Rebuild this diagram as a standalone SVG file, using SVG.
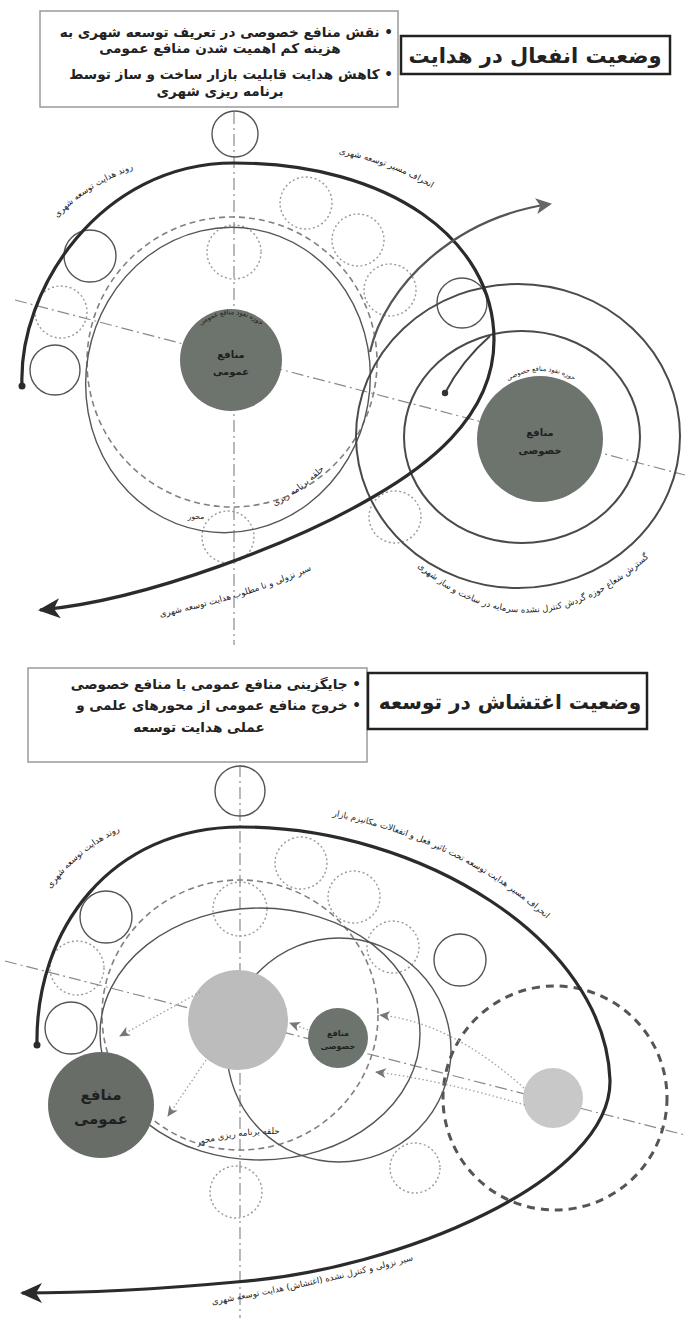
<svg xmlns="http://www.w3.org/2000/svg" width="685" height="1318" viewBox="0 0 685 1318">
<defs>
<style>
text{font-family:"DejaVu Sans","Noto Sans",sans-serif;fill:#222;}
.note{font-size:13.6px;font-weight:bold;direction:rtl;}
.title{font-size:21px;font-weight:bold;direction:rtl;}
.lbl{font-size:8.6px;fill:#222;direction:rtl;}
.cen{font-size:10px;font-weight:bold;fill:#1e221e;}
.hdr{font-size:6.5px;fill:#1e221e;direction:rtl;}
.axis{stroke:#8a8a8a;stroke-width:1.2;fill:none;stroke-dasharray:12 4 2 4;}
.dotc{stroke:#9a9a9a;stroke-width:1.4;fill:none;stroke-dasharray:2 2.5;}
.solc{stroke:#555;stroke-width:1.4;fill:none;}
.ring{stroke:#4a4a4a;stroke-width:2;fill:none;}
.dash{stroke:#808080;stroke-width:1.6;fill:none;stroke-dasharray:6 4;}
.thick{stroke:#2b2b2b;stroke-width:3.2;fill:none;}
.dark{fill:#6d736d;}
.dotarrow{stroke:#a0a0a0;stroke-width:1.3;fill:none;stroke-dasharray:1.5 2.5;}
</style>
<marker id="bigArrow" markerUnits="userSpaceOnUse" markerWidth="24" markerHeight="20" refX="20" refY="10" orient="auto">
<path d="M0,0 L22,10 L0,20 L6,10 Z" fill="#2b2b2b"/>
</marker>
<marker id="grayArrow" markerUnits="userSpaceOnUse" markerWidth="18" markerHeight="16" refX="14" refY="8" orient="auto">
<path d="M0,0 L16,8 L0,16 L4,8 Z" fill="#666"/>
</marker>
<marker id="smallArrow" markerUnits="userSpaceOnUse" markerWidth="12" markerHeight="10" refX="10" refY="5" orient="auto">
<path d="M0,0 L11,5 L0,10 L3,5 Z" fill="#777"/>
</marker>
<path id="p-top-left" d="M24,268 Q66,174 192,154"/>
<path id="p-top-right" d="M296,148 Q402,156 466,214"/>
<path id="p-top-ring" d="M248,518 Q305,496 344,448"/>
<path id="p-top-down" d="M118,626 C200,609 282,590 350,550"/>
<path id="p-top-outer" d="M386,536 Q530,694 680,526"/>
<path id="p-hdr-l" d="M188,346 A45,45 0 0 1 274,346"/>
<path id="p-hdr-r" d="M482,420 A60,60 0 0 1 600,420"/>
<path id="p-bot-left" d="M32,920 Q70,842 154,818"/>
<path id="p-bot-right" d="M266,808 C400,814 524,878 592,968"/>
<path id="p-bot-ring" d="M174,1153 Q240,1128 304,1136"/>
<path id="p-bot-down" d="M158,1314 C260,1297 380,1273 466,1244"/>
</defs>
<rect width="685" height="1318" fill="#fff"/>

<!-- ===== TOP PANEL ===== -->
<g id="top-axes">
<line class="axis" x1="234" y1="112" x2="234" y2="645"/>
<line class="axis" x1="15" y1="300" x2="685" y2="475"/>
</g>
<g id="top-note">
<rect x="40" y="11" width="358" height="96" fill="#fff" stroke="#9a9a9a" stroke-width="1.5"/>
<text class="note" x="393" y="37" text-anchor="start">• نقش منافع خصوصی در تعریف توسعه شهری به</text>
<text class="note" x="220" y="53" text-anchor="middle">هزینه کم اهمیت شدن منافع عمومی</text>
<text class="note" x="393" y="79" text-anchor="start">• کاهش هدایت قابلیت بازار ساخت و ساز توسط</text>
<text class="note" x="220" y="96" text-anchor="middle">برنامه ریزی شهری</text>
</g>
<g id="top-title">
<rect x="401" y="36" width="269" height="38" fill="#fff" stroke="#222" stroke-width="2.5"/>
<text class="title" x="535" y="63" text-anchor="middle">وضعیت انفعال در هدایت</text>
</g>
<g id="top-small-circles">
<circle class="solc" cx="235" cy="134" r="23"/>
<circle class="solc" cx="90" cy="256" r="26"/>
<circle class="solc" cx="55" cy="370" r="25"/>
<circle class="solc" cx="462" cy="303" r="25"/>
<circle class="dotc" cx="306" cy="203" r="26"/>
<circle class="dotc" cx="358" cy="240" r="26"/>
<circle class="dotc" cx="390" cy="290" r="26"/>
<circle class="dotc" cx="234" cy="252" r="27"/>
<circle class="dotc" cx="61" cy="312" r="26"/>
<circle class="dotc" cx="228" cy="537" r="26"/>
<circle class="dotc" cx="395" cy="517" r="26"/>
</g>
<g id="top-public-zone">
<circle class="dash" cx="232" cy="362" r="145"/>
<ellipse class="solc" cx="228" cy="380" rx="142" ry="153" transform="rotate(10 228 380)"/>
</g>
<g id="top-public-core">
<circle class="dark" cx="231" cy="360" r="51"/>
<text class="hdr"><textPath href="#p-hdr-l" startOffset="50%" text-anchor="middle">حوزه نفوذ منافع عمومی</textPath></text>
<text class="cen" x="231" y="358" text-anchor="middle">منافع</text>
<text class="cen" x="231" y="375" text-anchor="middle">عمومی</text>
</g>
<g id="top-private-zone">
<ellipse class="ring" cx="518" cy="436" rx="162" ry="152"/>
<ellipse class="ring" cx="522" cy="437" rx="118" ry="106"/>
</g>
<g id="top-private-core">
<circle class="dark" cx="540" cy="439" r="63"/>
<text class="hdr"><textPath href="#p-hdr-r" startOffset="50%" text-anchor="middle">حوزه نفوذ منافع خصوصی</textPath></text>
<text class="cen" x="540" y="436" text-anchor="middle">منافع</text>
<text class="cen" x="540" y="454" text-anchor="middle">خصوصی</text>
</g>
<g id="top-connectors">
<path class="thick" d="M22,386 C18,290 100,163 234,163 C390,163 494,240 494,340 C494,420 420,470 373,497 C300,540 150,600 40,610" marker-end="url(#bigArrow)"/>
<circle cx="22" cy="386" r="3.5" fill="#2b2b2b"/>
<path d="M370,352 C385,285 455,218 550,204" stroke="#555" stroke-width="2.2" fill="none" marker-end="url(#grayArrow)"/>
<path d="M445,393 C458,368 474,350 490,336" stroke="#444" stroke-width="2" fill="none"/>
<circle cx="445" cy="393" r="3.2" fill="#333"/>
</g>
<g id="top-labels">
<text class="lbl"><textPath href="#p-top-left" startOffset="50%" text-anchor="middle">روند هدایت توسعه شهری</textPath></text>
<text class="lbl"><textPath href="#p-top-right" startOffset="50%" text-anchor="middle">انحراف مسیر توسعه شهری</textPath></text>
<text class="lbl"><textPath href="#p-top-ring" startOffset="50%" text-anchor="middle">حلقه برنامه ریزی</textPath></text>
<text class="lbl" style="font-size:7.5px" x="196" y="519" text-anchor="middle">محور</text>
<text class="lbl"><textPath href="#p-top-down" startOffset="50%" text-anchor="middle">سیر نزولی و نا مطلوب هدایت توسعه شهری</textPath></text>
<text class="lbl"><textPath href="#p-top-outer" startOffset="50%" text-anchor="middle">گسترش شعاع حوزه گردش کنترل نشده سرمایه در ساخت و ساز شهری</textPath></text>
</g>

<!-- ===== BOTTOM PANEL ===== -->
<g id="bottom-axes">
<line class="axis" x1="240" y1="765" x2="240" y2="1318"/>
<line class="axis" x1="5" y1="961" x2="685" y2="1135"/>
</g>
<g id="bottom-note">
<rect x="28" y="668" width="339" height="94" fill="#fff" stroke="#9a9a9a" stroke-width="1.5"/>
<text class="note" x="361" y="689" text-anchor="start">• جایگزینی منافع عمومی با منافع خصوصی</text>
<text class="note" x="361" y="710" text-anchor="start">• خروج منافع عمومی از محورهای علمی و</text>
<text class="note" x="199" y="732" text-anchor="middle">عملی هدایت توسعه</text>
</g>
<g id="bottom-title">
<rect x="368" y="673" width="279" height="56" fill="#fff" stroke="#222" stroke-width="2.5"/>
<text class="title" style="font-size:20px" x="510" y="709" text-anchor="middle">وضعیت اغتشاش در توسعه</text>
</g>
<g id="bottom-small-circles">
<circle class="solc" cx="240" cy="791" r="25"/>
<circle class="solc" cx="106" cy="917" r="26"/>
<circle class="solc" cx="71" cy="1028" r="26"/>
<circle class="solc" cx="460" cy="960" r="26"/>
<circle class="dotc" cx="301" cy="863" r="26"/>
<circle class="dotc" cx="354" cy="897" r="26"/>
<circle class="dotc" cx="240" cy="909" r="27"/>
<circle class="dotc" cx="393" cy="947" r="26"/>
<circle class="dotc" cx="77" cy="968" r="27"/>
<circle class="dotc" cx="236" cy="1192" r="26"/>
<circle class="dotc" cx="415" cy="1168" r="25"/>
</g>
<g id="bottom-zones">
<ellipse class="dash" cx="240" cy="1015" rx="138" ry="135"/>
<ellipse class="solc" cx="260" cy="1034" rx="160" ry="126"/>
<circle class="solc" cx="339" cy="1050" r="112"/>
<circle cx="555" cy="1098" r="112" fill="none" stroke="#555" stroke-width="3" stroke-dasharray="8 6"/>
</g>
<g id="bottom-faded-public">
<circle cx="238" cy="1020" r="50" fill="#bcbcbc"/>
</g>
<g id="bottom-private-core">
<circle class="dark" cx="338" cy="1038" r="30"/>
<text class="cen" style="font-size:8px" x="338" y="1036" text-anchor="middle">منافع</text>
<text class="cen" style="font-size:8px" x="338" y="1049" text-anchor="middle">خصوصی</text>
</g>
<g id="bottom-faded-private">
<circle cx="553" cy="1098" r="30" fill="#c8c8c8"/>
</g>
<g id="bottom-public-core">
<circle cx="101" cy="1105" r="53" fill="#686d68"/>
<text class="cen" style="font-size:15px" x="101" y="1100" text-anchor="middle">منافع</text>
<text class="cen" style="font-size:15px" x="101" y="1124" text-anchor="middle">عمومی</text>
</g>
<g id="bottom-connectors">
<path class="thick" d="M37,1045 C35,930 110,827 241,827 C420,827 605,940 610,1080 C612,1180 400,1270 236,1282 C150,1290 80,1293 22,1293" marker-end="url(#bigArrow)"/>
<circle cx="37" cy="1045" r="3.5" fill="#2b2b2b"/>
<path class="dotarrow" d="M524,1088 Q450,1022 380,1015" marker-end="url(#smallArrow)"/>
<path class="dotarrow" d="M525,1105 Q440,1080 376,1072" marker-end="url(#smallArrow)"/>
<path class="dotarrow" d="M308,1030 L290,1023" marker-end="url(#smallArrow)"/>
<path class="dotarrow" d="M200,992 L120,1036" marker-end="url(#smallArrow)"/>
<path class="dotarrow" d="M206,1060 L168,1116" marker-end="url(#smallArrow)"/>
</g>
<g id="bottom-labels">
<text class="lbl"><textPath href="#p-bot-left" startOffset="50%" text-anchor="middle">روند هدایت توسعه شهری</textPath></text>
<text class="lbl"><textPath href="#p-bot-right" startOffset="50%" text-anchor="middle">انحراف مسیر هدایت توسعه تحت تاثیر فعل و انفعالات مکانیزم بازار</textPath></text>
<text class="lbl"><textPath href="#p-bot-ring" startOffset="50%" text-anchor="middle">حلقه برنامه ریزی محور</textPath></text>
<text class="lbl"><textPath href="#p-bot-down" startOffset="50%" text-anchor="middle">سیر نزولی و کنترل نشده (اغتشاش) هدایت توسعه شهری</textPath></text>
</g>
</svg>
